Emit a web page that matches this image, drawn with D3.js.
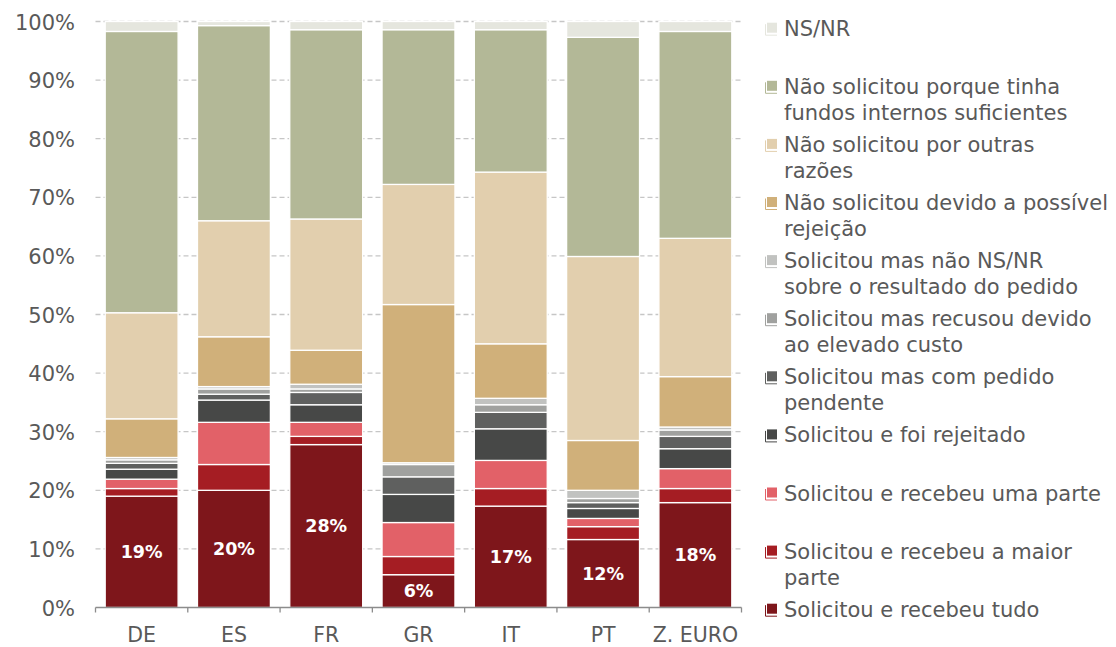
<!DOCTYPE html>
<html>
<head>
<meta charset="utf-8">
<script src="https://cdn.jsdelivr.net/npm/d3@7"></script>
<style>
  html, body { margin: 0; padding: 0; background: #ffffff; }
  svg { display: block; }
  text { font-family: "DejaVu Sans", Verdana, sans-serif; }
</style>
</head>
<body>
<svg id="chart" width="1116" height="647"></svg>
<script>
// ---- Data ----
const categories = ["DE", "ES", "FR", "GR", "IT", "PT", "Z. EURO"];

// series in stacking order (bottom to top)
const seriesNames = [
  "Solicitou e recebeu tudo",
  "Solicitou e recebeu a maior parte",
  "Solicitou e recebeu uma parte",
  "Solicitou e foi rejeitado",
  "Solicitou mas com pedido pendente",
  "Solicitou mas recusou devido ao elevado custo",
  "Solicitou mas não NS/NR sobre o resultado do pedido",
  "Não solicitou devido a possível rejeição",
  "Não solicitou por outras razões",
  "Não solicitou porque tinha fundos internos suficientes",
  "NS/NR"
];

// legend labels split in lines (same order as seriesNames)
const legendLines = [
  ["Solicitou e recebeu tudo"],
  ["Solicitou e recebeu a maior", "parte"],
  ["Solicitou e recebeu uma parte"],
  ["Solicitou e foi rejeitado"],
  ["Solicitou mas com pedido", "pendente"],
  ["Solicitou mas recusou devido", "ao elevado custo"],
  ["Solicitou mas não NS/NR", "sobre o resultado do pedido"],
  ["Não solicitou devido a possível", "rejeição"],
  ["Não solicitou por outras", "razões"],
  ["Não solicitou porque tinha", "fundos internos suficientes"],
  ["NS/NR"]
];

const seriesColors = [
  "#7e161b", "#a51d23", "#e26168", "#474847", "#5f605f",
  "#a0a19f", "#c1c2c0", "#d0b07a", "#e2cfae", "#b3b897", "#e5e6de"
];

// values (%) per series, across categories
const recebeuTudo      = [19.0, 20.0, 27.8, 5.6, 17.3, 11.6, 17.9];
const recebeuMaior     = [1.3, 4.4, 1.4, 3.1, 3.0, 2.2, 2.4];
const recebeuParte     = [1.6, 7.2, 2.4, 5.8, 4.8, 1.4, 3.4];
const foiRejeitado     = [1.7, 3.8, 3.0, 4.8, 5.4, 1.7, 3.4];
const pedidoPendente   = [1.0, 1.0, 2.1, 3.0, 2.8, 1.0, 2.1];
const recusouCusto     = [0.6, 0.9, 0.6, 2.1, 1.3, 0.7, 1.1];
const nsnrPedido       = [0.4, 0.4, 0.8, 0.3, 1.1, 1.4, 0.5];
const possivelRejeicao = [6.6, 8.5, 5.8, 27.0, 9.3, 8.5, 8.6];
const outrasRazoes     = [18.1, 19.8, 22.4, 20.5, 29.3, 31.4, 23.6];
const fundosInternos   = [48.0, 33.3, 32.3, 26.4, 24.3, 37.4, 35.3];
const nsnr             = [1.7, 0.7, 1.4, 1.4, 1.4, 2.7, 1.7];

const seriesValues = [
  recebeuTudo, recebeuMaior, recebeuParte, foiRejeitado, pedidoPendente,
  recusouCusto, nsnrPedido, possivelRejeicao, outrasRazoes, fundosInternos, nsnr
];

const yTicks = [0, 10, 20, 30, 40, 50, 60, 70, 80, 90, 100];

// ---- Layout ----
const svg = d3.select("#chart");
const plot = { left: 95.5, right: 741.5, top: 21.5, bottom: 607.5 };
const textColor = "#595959";

const x = d3.scaleBand()
  .domain(categories)
  .range([plot.left, plot.right])
  .paddingInner(0.21)
  .paddingOuter(0.105);

const y = d3.scaleLinear().domain([0, 100]).range([plot.bottom, plot.top]);

// table for stacking
const table = categories.map((c, i) => {
  const row = { cat: c };
  seriesNames.forEach((s, k) => { row[s] = seriesValues[k][i]; });
  return row;
});
const stacked = d3.stack().keys(seriesNames)(table);

// gridlines
svg.append("g")
  .selectAll("line")
  .data(yTicks.filter(t => t > 0))
  .join("line")
  .attr("x1", plot.left).attr("x2", plot.right)
  .attr("y1", d => y(d)).attr("y2", d => y(d))
  .attr("stroke", "#c6c6c6")
  .attr("stroke-width", 1.3)
  .attr("stroke-dasharray", "5,3");

// y axis labels
const yAxis = d3.axisLeft(y).tickValues(yTicks).tickFormat(d => d + "%").tickSize(0).tickPadding(0);
const yg = svg.append("g").attr("transform", `translate(75,0)`).call(yAxis);
yg.select(".domain").remove();
yg.selectAll("text")
  .attr("fill", textColor)
  .attr("font-size", 21)
  .attr("font-family", "DejaVu Sans, sans-serif")
  .attr("dy", "0.36em");

// bars
const layers = svg.append("g").selectAll("g")
  .data(stacked)
  .join("g")
  .attr("fill", (d, i) => seriesColors[i]);

layers.selectAll("rect")
  .data(d => d.map(p => ({ p, cat: p.data.cat })))
  .join("rect")
  .attr("x", d => x(d.cat))
  .attr("width", x.bandwidth())
  .attr("y", d => y(d.p[1]))
  .attr("height", d => Math.max(0, y(d.p[0]) - y(d.p[1])))
  .attr("stroke", "#ffffff")
  .attr("stroke-width", 1.3);

// data labels on first series
svg.append("g")
  .selectAll("text")
  .data(stacked[0])
  .join("text")
  .attr("x", d => x(d.data.cat) + x.bandwidth() / 2)
  .attr("y", d => (y(d[0]) + y(d[1])) / 2)
  .attr("dy", "0.36em")
  .attr("text-anchor", "middle")
  .attr("fill", "#ffffff")
  .attr("font-weight", "bold")
  .attr("font-size", 17.5)
  .text(d => Math.round(d[1] - d[0]) + "%");

// x axis
const xAxisG = svg.append("g");
xAxisG.append("line")
  .attr("x1", plot.left).attr("x2", plot.right)
  .attr("y1", plot.bottom).attr("y2", plot.bottom)
  .attr("stroke", "#8c8c8c").attr("stroke-width", 1.3);
const boundaries = categories.map(c => x(c) - x.step() * x.paddingInner() / 2).concat([plot.right]);
boundaries[0] = plot.left;
xAxisG.selectAll("line.tick")
  .data(boundaries)
  .join("line")
  .attr("class", "tick")
  .attr("x1", d => d).attr("x2", d => d)
  .attr("y1", plot.bottom).attr("y2", plot.bottom + 5)
  .attr("stroke", "#8c8c8c").attr("stroke-width", 1.3);
xAxisG.selectAll("text")
  .data(categories)
  .join("text")
  .attr("x", d => x(d) + x.bandwidth() / 2)
  .attr("y", 642)
  .attr("text-anchor", "middle")
  .attr("fill", textColor)
  .attr("font-size", 20.5)
  .text(d => d);

// legend (top = last series)
const legendOrder = d3.range(seriesNames.length).reverse();
const legend = svg.append("g");
const lgItem = legend.selectAll("g")
  .data(legendOrder)
  .join("g")
  .attr("transform", (k, j) => `translate(0,${35.7 + j * 58.1})`);

lgItem.append("path")
  .attr("d", "M765.5,-11.5 V-0.5 H777")
  .attr("fill", "none")
  .attr("stroke", k => seriesColors[k])
  .attr("stroke-width", 1);
lgItem.append("rect")
  .attr("x", 767).attr("y", -13)
  .attr("width", 10).attr("height", 10)
  .attr("fill", k => seriesColors[k]);

lgItem.append("text")
  .attr("x", 784)
  .attr("y", 0)
  .attr("fill", textColor)
  .attr("font-size", 21)
  .selectAll("tspan")
  .data(k => legendLines[k])
  .join("tspan")
  .attr("x", 784)
  .attr("dy", (d, i) => i === 0 ? 0 : 26)
  .text(d => d);
</script>
</body>
</html>
